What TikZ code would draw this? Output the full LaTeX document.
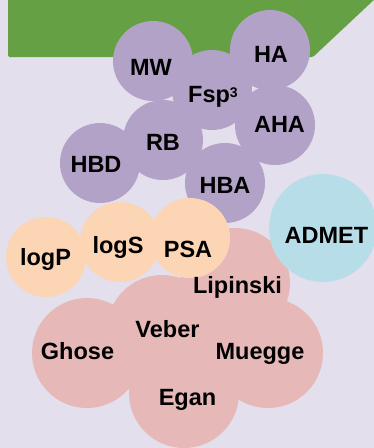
\documentclass[tikz,border=0pt]{standalone}
\usepackage{fontspec}
\setmainfont{Liberation Sans}
\definecolor{bgc}{HTML}{E4DFEC}
\definecolor{grn}{HTML}{66A044}
\definecolor{pur}{HTML}{B3A2C7}
\definecolor{blu}{HTML}{B7DEE8}
\definecolor{org}{HTML}{FCD5B5}
\definecolor{pnk}{HTML}{E6B9B8}
\tikzset{
  lbl/.style={anchor=base, inner sep=0pt, font=\fontsize{23.5}{28}\selectfont\bfseries, text=black},
}
\begin{document}
\begin{tikzpicture}[x=1pt,y=-1pt]
\fill[bgc] (0,0) rectangle (374,448);
\useasboundingbox (0,0) rectangle (374,448);
% green banner
\fill[grn, rounded corners=1.5pt] (8,-5) -- (8,57) -- (313,57) -- (377,-3) -- cycle;
% pink group
\fill[pnk] (235,283) circle (55);
\fill[pnk] (162,330) circle (55);
\fill[pnk] (87,353) circle (55);
\fill[pnk] (268,353) circle (55);
\fill[pnk] (184,393) circle (55);
% purple group
\fill[pur] (153,61) circle (40);
\fill[pur] (270,50) circle (40);
\fill[pur] (212,90) circle (40);
\fill[pur] (275,125) circle (40);
\fill[pur] (163,140) circle (40);
\fill[pur] (100,163) circle (40);
\fill[pur] (225,183) circle (40);
% orange group
\fill[org] (46,257) circle (40);
\fill[org] (120,242) circle (40);
\fill[org] (190,238) circle (40);
% ADMET
\fill[blu] (323,228) circle (54);
% labels
\node[lbl] (mw) at (151,75) {MW};
\node[lbl] (ha) at (271,62) {HA};
\node[lbl] (fsp) at (213,102) {Fsp\raisebox{5pt}{\fontsize{14}{14}\selectfont 3}};
\node[lbl] (aha) at (279.5,132) {AHA};
\node[lbl] (rb) at (163,150) {RB};
\node[lbl] (hbd) at (96,172) {HBD};
\node[lbl] (hba) at (225,193) {HBA};
\node[lbl] (admet) at (326.5,243) {ADMET};
\node[lbl] (logp) at (45.5,265) {logP};
\node[lbl] (logs) at (118,253) {logS};
\node[lbl] (psa) at (188,257) {PSA};
\node[lbl] (lip) at (237.5,293) {Lipinski};
\node[lbl] (veb) at (167.5,337) {Veber};
\node[lbl] (gho) at (77.5,359) {Ghose};
\node[lbl] (mue) at (260,359) {Muegge};
\node[lbl] (ega) at (187.5,405) {Egan};
\end{tikzpicture}
\end{document}
